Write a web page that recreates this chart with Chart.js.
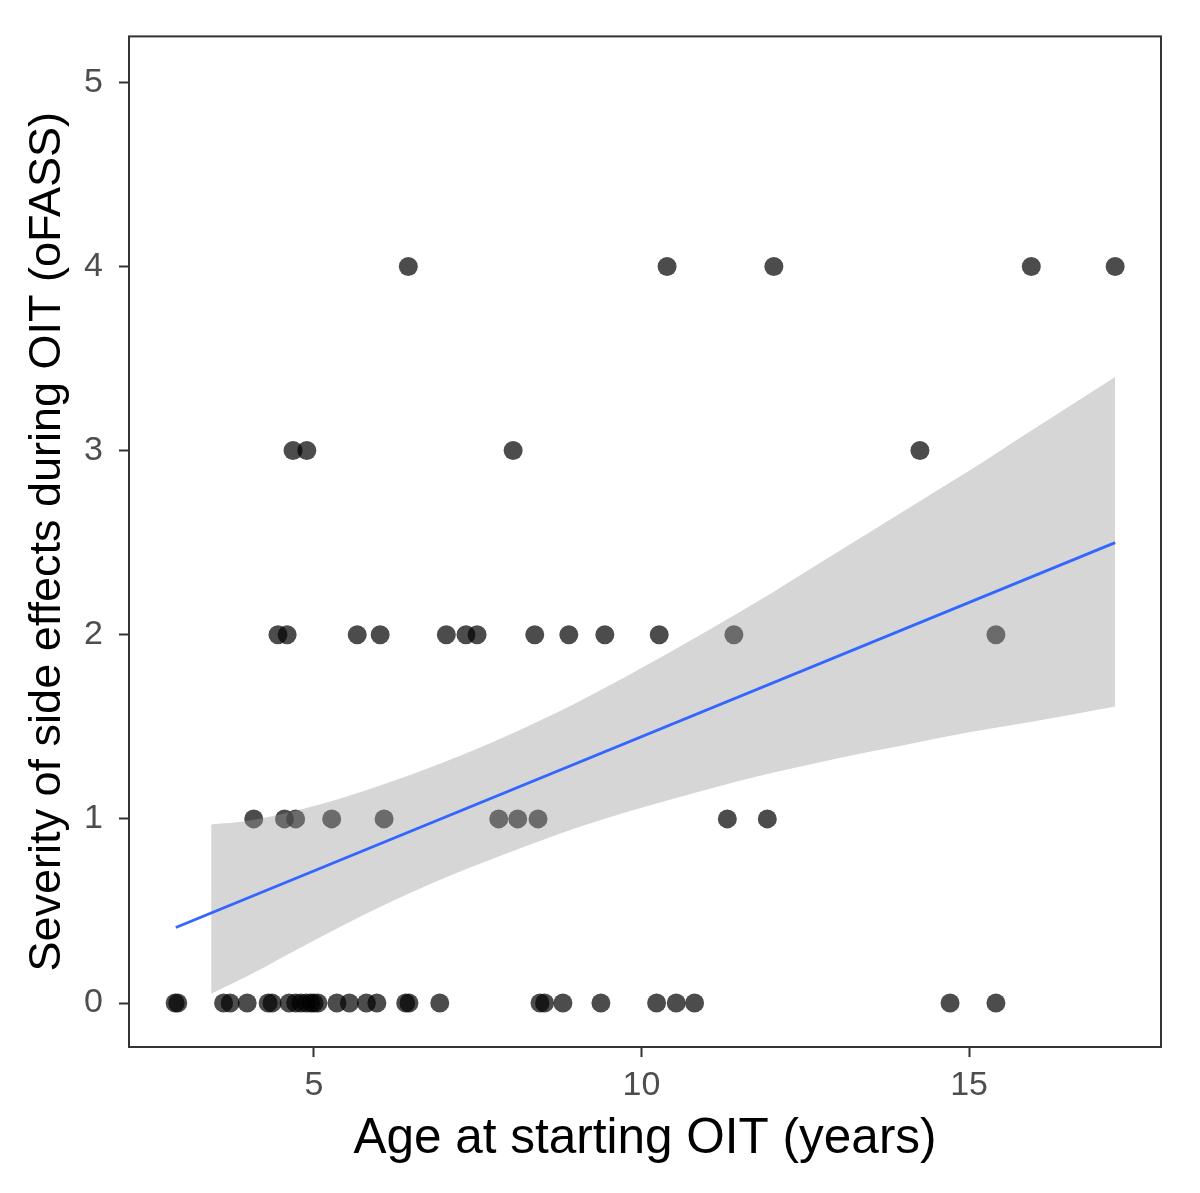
<!DOCTYPE html>
<html>
<head>
<meta charset="utf-8">
<script src="https://cdn.jsdelivr.net/npm/chart.js@4.4.1/dist/chart.umd.min.js"></script>
<style>
  html, body { margin: 0; padding: 0; background: #fff; }
</style>
</head>
<body>
<canvas id="chart" width="1200" height="1193"></canvas>
<script>
// ages (years) of the patients, grouped by oFASS severity score
const agesSeverity0 = [2.88, 2.92, 3.62, 3.72, 3.98, 4.3, 4.36, 4.62, 4.72, 4.8, 4.88, 4.95, 5.0, 5.06,
  5.35, 5.54, 5.8, 5.96, 6.4, 6.45, 6.92, 8.45, 8.52, 8.8, 9.38, 10.23, 10.53, 10.81, 14.71, 15.41];
const agesSeverity1 = [4.08, 4.55, 4.72, 5.27, 6.07, 7.82, 8.11, 8.42, 11.31, 11.92];
const agesSeverity2 = [4.45, 4.59, 5.66, 6.01, 7.02, 7.32, 7.49, 8.37, 8.89, 9.44, 10.27, 11.41, 15.41];
const agesSeverity3 = [4.68, 4.89, 8.04, 14.25];
const agesSeverity4 = [6.44, 10.39, 12.02, 15.95, 17.23];

// linear fit and its confidence band
const fitX = [2.89, 17.23];
const fitY = [0.41, 2.50];
const bandX = [3.43, 4, 5, 6, 7, 8, 9, 10, 11, 12, 13, 14, 15, 16, 17.23];
const bandUpper = [0.97, 0.99, 1.07, 1.18, 1.31, 1.46, 1.63, 1.82, 2.02, 2.23, 2.45, 2.67, 2.89, 3.12, 3.40];
const bandLower = [0.05, 0.15, 0.34, 0.52, 0.68, 0.82, 0.95, 1.06, 1.16, 1.25, 1.33, 1.40, 1.47, 1.53, 1.61];

const xTicks = [5, 10, 15];
const yTicks = [0, 1, 2, 3, 4, 5];

const FONT = "'Liberation Sans', Arial, sans-serif";

const points = [];
[agesSeverity0, agesSeverity1, agesSeverity2, agesSeverity3, agesSeverity4].forEach((ages, score) => {
  ages.forEach(a => points.push({ x: a, y: score }));
});
const zip = (xs, ys) => xs.map((x, i) => ({ x: x, y: ys[i] }));

// box around the panel
const panelBorder = {
  id: 'panelBorder',
  afterDraw(chart) {
    const { ctx, chartArea: a } = chart;
    ctx.save();
    ctx.strokeStyle = '#333333';
    ctx.lineWidth = 2;
    ctx.strokeRect(a.left, a.top, a.right - a.left, a.bottom - a.top);
    ctx.restore();
  }
};

new Chart(document.getElementById('chart'), {
  type: 'scatter',
  data: {
    datasets: [
      {
        type: 'line',
        data: zip(fitX, fitY),
        borderColor: '#3366FF',
        borderWidth: 2.8,
        pointRadius: 0,
        fill: false,
        order: 0
      },
      {
        type: 'line',
        data: zip(bandX, bandLower),
        borderWidth: 0,
        borderColor: 'rgba(0,0,0,0)',
        pointRadius: 0,
        fill: false,
        cubicInterpolationMode: 'monotone',
        order: 1
      },
      {
        type: 'line',
        data: zip(bandX, bandUpper),
        borderWidth: 0,
        borderColor: 'rgba(0,0,0,0)',
        backgroundColor: 'rgba(153,153,153,0.4)',
        pointRadius: 0,
        fill: 1,
        cubicInterpolationMode: 'monotone',
        order: 1
      },
      {
        data: points,
        pointRadius: 9.5,
        pointBackgroundColor: 'rgba(0,0,0,0.7)',
        pointBorderWidth: 0,
        order: 2
      }
    ]
  },
  options: {
    responsive: false,
    animation: false,
    devicePixelRatio: 1,
    layout: { padding: { top: 35, right: 39, left: 0, bottom: 0 } },
    plugins: {
      legend: { display: false },
      tooltip: { enabled: false }
    },
    scales: {
      x: {
        type: 'linear',
        position: 'bottom',
        min: 2.176,
        max: 17.93,
        afterBuildTicks: s => { s.ticks = xTicks.map(v => ({ value: v })); },
        afterFit: s => { s.height = 146; },
        border: { display: false },
        grid: { drawOnChartArea: false, drawTicks: true, tickLength: 10, tickWidth: 2, tickColor: '#333333' },
        ticks: { color: '#4d4d4d', font: { family: FONT, size: 34 }, padding: 8, maxRotation: 0 },
        title: {
          display: true,
          text: 'Age at starting OIT (years)',
          color: '#000',
          font: { family: FONT, size: 49.5 },
          padding: { top: 0, bottom: 24 }
        }
      },
      y: {
        type: 'linear',
        min: -0.2386,
        max: 5.249,
        afterBuildTicks: s => { s.ticks = yTicks.map(v => ({ value: v })); },
        afterFit: s => { s.width = 129; },
        border: { display: false },
        grid: { drawOnChartArea: false, drawTicks: true, tickLength: 10, tickWidth: 2, tickColor: '#333333' },
        ticks: { color: '#4d4d4d', font: { family: FONT, size: 34 }, padding: 16 },
        title: {
          display: true,
          text: 'Severity of side effects during OIT (oFASS)',
          color: '#000',
          font: { family: FONT, size: 45 },
          padding: { top: 21, bottom: 0 }
        }
      }
    }
  },
  plugins: [panelBorder]
});
</script>
</body>
</html>
